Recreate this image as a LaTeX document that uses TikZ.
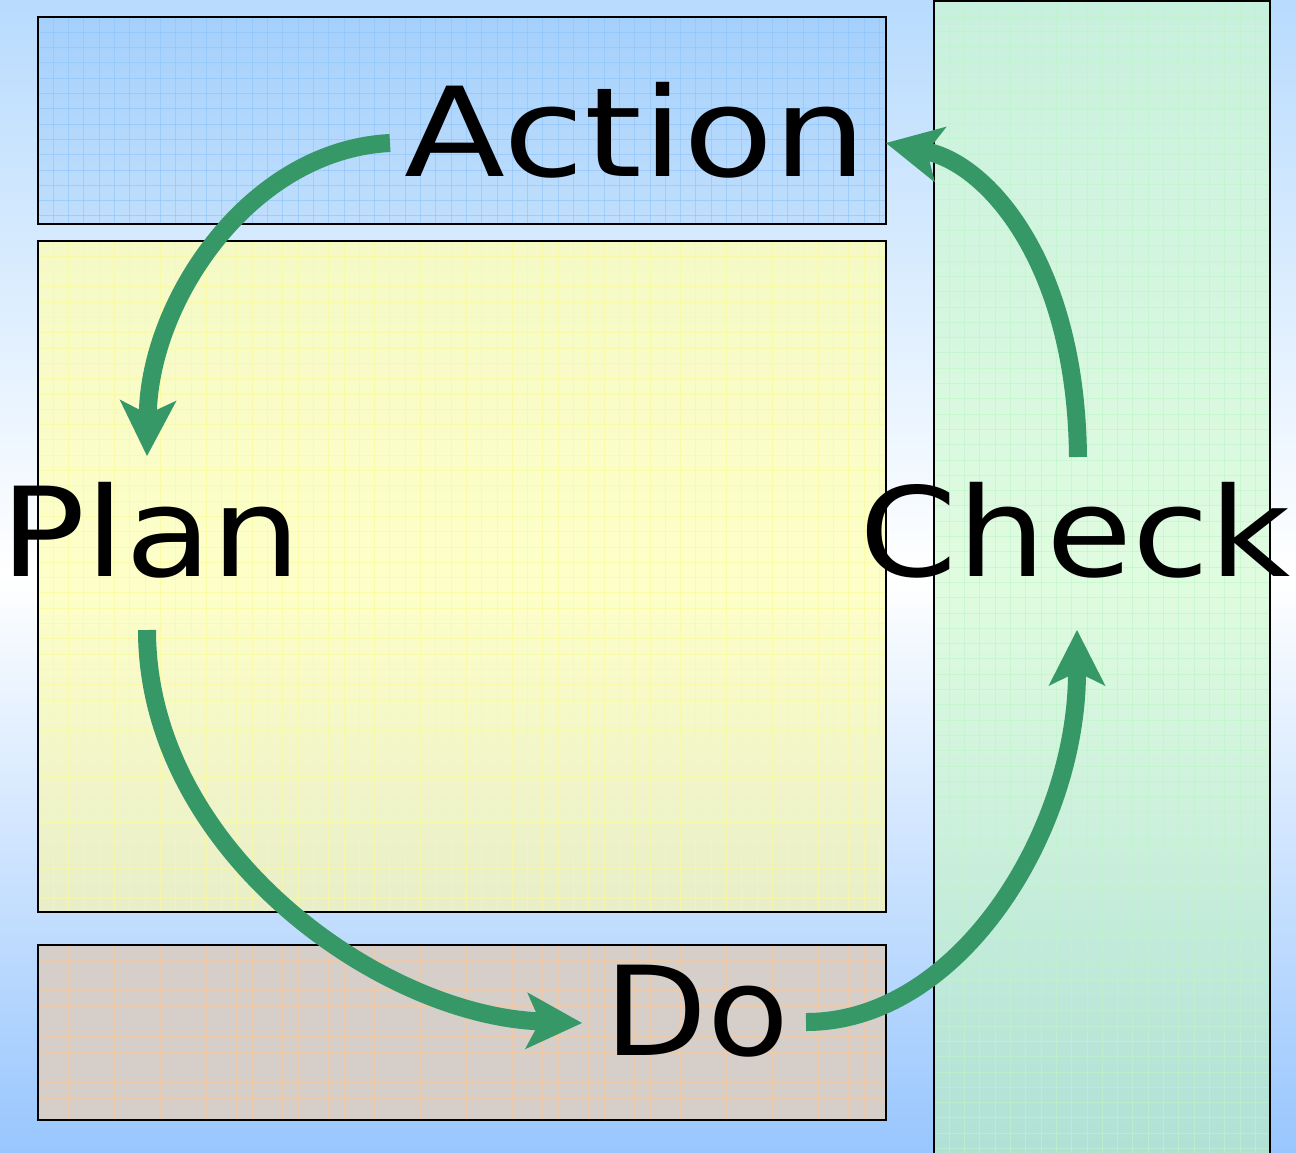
\documentclass[tikz,border=0pt]{standalone}
\usepackage{fontspec}
\newfontfamily\lbl{DejaVu Sans}
\usetikzlibrary{arrows.meta}
\definecolor{arr}{RGB}{54,152,102}
\definecolor{bgtop}{RGB}{184,219,254}
\definecolor{bgbot}{RGB}{152,198,254}
\definecolor{acttop}{RGB}{164,208,252}
\definecolor{actbot}{RGB}{192,222,252}
\definecolor{plantop}{RGB}{244,249,198}
\definecolor{planmid}{RGB}{254,255,200}
\definecolor{planbot}{RGB}{232,238,200}
\definecolor{dofill}{RGB}{214,206,200}
\definecolor{chktop}{RGB}{200,240,222}
\definecolor{chkmid}{RGB}{224,252,224}
\definecolor{chkbot}{RGB}{176,224,214}
\definecolor{gblue}{RGB}{140,196,250}
\definecolor{gyel}{RGB}{250,250,150}
\definecolor{gorange}{RGB}{252,200,150}
\definecolor{ggreen}{RGB}{190,245,200}
\tikzset{
  boxline/.style={draw=black, line width=2pt},
  gridline/.style={line width=1pt, opacity=0.6},
  word/.style={inner sep=0pt, anchor=base, font=\lbl\fontsize{124}{130}\selectfont},
  flow/.style={draw=arr, line width=18pt,
    -{Stealth[length=56pt, width=57pt, inset=14pt, line width=0pt]}}
}
\begin{document}
\begin{tikzpicture}[x=1pt, y=-1pt]
\useasboundingbox (0,0) rectangle (1296,1152);
% background
\shade[top color=bgtop, bottom color=bgbot, middle color=white] (0,0) rectangle (1296,1152);
% Action box
\shade[top color=acttop, bottom color=actbot] (38,17) rectangle (886,224);
\begin{scope}
\clip (38,17) rectangle (886,224);
\foreach \gx in {53.3,68.6,...,886} \draw[gridline, draw=gblue] (\gx,17) -- (\gx,224);
\foreach \gy in {32.3,47.6,...,224} \draw[gridline, draw=gblue] (38,\gy) -- (886,\gy);
\end{scope}
\draw[boxline] (38,17) rectangle (886,224);
% Plan box
\shade[top color=plantop, bottom color=planbot, middle color=planmid] (38,241) rectangle (886,912);
\begin{scope}
\clip (38,241) rectangle (886,912);
\foreach \gx in {53.3,68.6,...,886} \draw[gridline, draw=gyel] (\gx,241) -- (\gx,912);
\foreach \gy in {256.3,271.6,...,912} \draw[gridline, draw=gyel] (38,\gy) -- (886,\gy);
\end{scope}
\draw[boxline] (38,241) rectangle (886,912);
% Do box
\fill[dofill] (38,945) rectangle (886,1120);
\begin{scope}
\clip (38,945) rectangle (886,1120);
\foreach \gx in {53.3,68.6,...,886} \draw[gridline, draw=gorange] (\gx,945) -- (\gx,1120);
\foreach \gy in {960.3,975.6,...,1120} \draw[gridline, draw=gorange] (38,\gy) -- (886,\gy);
\end{scope}
\draw[boxline] (38,945) rectangle (886,1120);
% Check column
\shade[top color=chktop, bottom color=chkbot, middle color=chkmid] (934,1) rectangle (1270,1156);
\begin{scope}
\clip (934,1) rectangle (1270,1156);
\foreach \gx in {949.3,964.6,...,1270} \draw[gridline, draw=ggreen] (\gx,1) -- (\gx,1156);
\foreach \gy in {16.3,31.6,...,1156} \draw[gridline, draw=ggreen] (934,\gy) -- (1270,\gy);
\end{scope}
\draw[boxline] (934,1) rectangle (1270,1156);
% labels
\node[word] (action) at (636,176) {\scalebox{1.19}[1]{Action}};
\node[word] (plan) at (151,576) {\scalebox{1.14}[1]{Plan}};
\node[word] (check) at (1075,576) {\scalebox{1.13}[1]{Check}};
\node[word] (doo) at (697,1055) {\scalebox{1.08}[1]{Do}};
% arrow ends
\coordinate (a1s) at (390,143);
\coordinate (a1e) at (147,456);
\coordinate (a2s) at (147,630);
\coordinate (a2e) at (582,1023);
\coordinate (a3s) at (806,1022);
\coordinate (a3e) at (1077,630);
\coordinate (a4s) at (1078,457);
\coordinate (a4e) at (886,143);
% arrows
\draw[flow] (a1s) .. controls (250,150) and (150,300) .. (a1e);
\draw[flow] (a2s) .. controls (147,850) and (380,1015) .. (a2e);
\draw[flow] (a3s) .. controls (960,1022) and (1077,830) .. (a3e);
\draw[flow] (a4s) .. controls (1076,260) and (986,164) .. (a4e);
\end{tikzpicture}
\end{document}
